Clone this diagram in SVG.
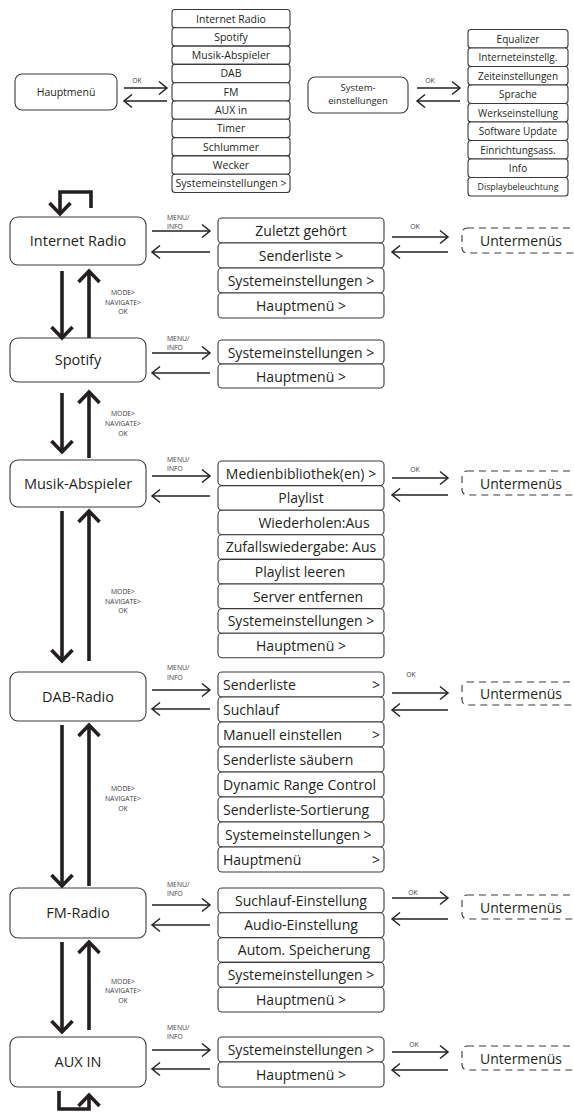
<svg xmlns="http://www.w3.org/2000/svg" width="574" height="1113" viewBox="0 0 574 1113">
  <style>
    text { font-family: "Open Sans", "Noto Sans", "DejaVu Sans", sans-serif; fill: #231f20; }
    .box { fill: #fff; stroke: #3a3a3a; stroke-width: 1.1; }
    .dash { fill: none; stroke: #3a3a3a; stroke-width: 1.1; stroke-dasharray: 7 5; }
    .main { font-size: 14.5px; text-anchor: middle; }
    .item { font-size: 14px; text-anchor: middle; }
    .itemL { font-size: 14px; }
    .top { font-size: 10.5px; text-anchor: middle; }
    .sys { font-size: 10px; text-anchor: middle; }
    .tiny { font-size: 6.8px; fill: #3a3a3a; }
    .tinyC { font-size: 6.8px; fill: #3a3a3a; text-anchor: middle; }
    .thin { fill: none; stroke: #231f20; stroke-width: 1.5; marker-end: url(#headThin); }
    .thick { fill: none; stroke: #231f20; stroke-width: 3.6; marker-end: url(#headThick); }
  </style>
  <defs>
    <marker id="headThin" markerUnits="userSpaceOnUse" viewBox="-12 -10 16 20" markerWidth="16" markerHeight="20" refX="0" refY="0" orient="auto">
      <path d="M-8,-6.5 L0,0 L-8,6.5" fill="none" stroke="#231f20" stroke-width="1.5"/>
    </marker>
    <marker id="headThick" markerUnits="userSpaceOnUse" viewBox="-16 -14 22 28" markerWidth="22" markerHeight="28" refX="0" refY="0" orient="auto">
      <path d="M-11,-10.5 L0,0 L-11,10.5" fill="none" stroke="#231f20" stroke-width="3.6"/>
    </marker>
  </defs>

  <!-- Main menu overview -->
  <g id="hauptmenue">
    <rect class="box" x="15" y="74" width="102" height="36" rx="7"/>
    <text class="top" x="66" y="96">Hauptmenü</text>
  </g>
  <g id="hauptmenue-liste">
    <rect class="box" x="172" y="9.5" width="118" height="18.3" rx="3"/>
    <text class="top" x="231" y="22.5">Internet Radio</text>
    <rect class="box" x="172" y="27.8" width="118" height="18.3" rx="3"/>
    <text class="top" x="231" y="40.8">Spotify</text>
    <rect class="box" x="172" y="46.1" width="118" height="18.3" rx="3"/>
    <text class="top" x="231" y="59.1">Musik-Abspieler</text>
    <rect class="box" x="172" y="64.4" width="118" height="18.3" rx="3"/>
    <text class="top" x="231" y="77.4">DAB</text>
    <rect class="box" x="172" y="82.7" width="118" height="18.3" rx="3"/>
    <text class="top" x="231" y="95.7">FM</text>
    <rect class="box" x="172" y="101" width="118" height="18.3" rx="3"/>
    <text class="top" x="231" y="114">AUX in</text>
    <rect class="box" x="172" y="119.3" width="118" height="18.3" rx="3"/>
    <text class="top" x="231" y="132.3">Timer</text>
    <rect class="box" x="172" y="137.6" width="118" height="18.3" rx="3"/>
    <text class="top" x="231" y="150.6">Schlummer</text>
    <rect class="box" x="172" y="155.9" width="118" height="18.3" rx="3"/>
    <text class="top" x="231" y="168.9">Wecker</text>
    <rect class="box" x="172" y="174.2" width="118" height="18.3" rx="3"/>
    <text class="top" x="231" y="187.2" textLength="111" lengthAdjust="spacingAndGlyphs">Systemeinstellungen &gt;</text>
  </g>

  <!-- System settings overview -->
  <g id="systemeinstellungen">
    <rect class="box" x="308" y="77" width="100" height="36" rx="7"/>
    <text class="top" x="358" y="91" style="font-size:9.5px">System-</text>
    <text class="top" x="358" y="104.3" style="font-size:9.5px">einstellungen</text>
  </g>
  <g id="system-liste">
    <rect class="box" x="468" y="29.5" width="100" height="18.5" rx="3"/>
    <text class="sys" x="518" y="42.5">Equalizer</text>
    <rect class="box" x="468" y="48" width="100" height="18.5" rx="3"/>
    <text class="sys" x="518" y="61">Interneteinstellg.</text>
    <rect class="box" x="468" y="66.5" width="100" height="18.5" rx="3"/>
    <text class="sys" x="518" y="79.5">Zeiteinstellungen</text>
    <rect class="box" x="468" y="85" width="100" height="18.5" rx="3"/>
    <text class="sys" x="518" y="98">Sprache</text>
    <rect class="box" x="468" y="103.5" width="100" height="18.5" rx="3"/>
    <text class="sys" x="518" y="116.5">Werkseinstellung</text>
    <rect class="box" x="468" y="122" width="100" height="18.5" rx="3"/>
    <text class="sys" x="518" y="135">Software Update</text>
    <rect class="box" x="468" y="140.5" width="100" height="18.5" rx="3"/>
    <text class="sys" x="518" y="153.5">Einrichtungsass.</text>
    <rect class="box" x="468" y="159" width="100" height="18.5" rx="3"/>
    <text class="sys" x="518" y="172">Info</text>
    <rect class="box" x="468" y="177.5" width="100" height="18.5" rx="3"/>
    <text class="sys" x="518" y="190" style="font-size:8.8px">Displaybeleuchtung</text>
  </g>

  <!-- Modes -->
  <g id="internet-radio">
    <rect class="box" x="10" y="217" width="136" height="48" rx="8"/>
    <text class="main" x="78" y="246">Internet Radio</text>
  </g>
  <g id="internet-radio-menue">
    <rect class="box" x="218" y="218" width="166" height="25" rx="4"/>
    <text class="item" x="301" y="236">Zuletzt gehört</text>
    <rect class="box" x="218" y="243" width="166" height="25" rx="4"/>
    <text class="item" x="301" y="261">Senderliste &gt;</text>
    <rect class="box" x="218" y="268" width="166" height="25" rx="4"/>
    <text class="item" x="301" y="286">Systemeinstellungen &gt;</text>
    <rect class="box" x="218" y="293" width="166" height="25" rx="4"/>
    <text class="item" x="301" y="311">Hauptmenü &gt;</text>
  </g>
  <g id="internet-radio-untermenues">
    <rect class="dash" x="462" y="228" width="150" height="25" rx="5"/>
    <text class="item" x="521" y="246">Untermenüs</text>
  </g>

  <g id="spotify">
    <rect class="box" x="10" y="338" width="136" height="44" rx="8"/>
    <text class="main" x="78" y="365">Spotify</text>
  </g>
  <g id="spotify-menue">
    <rect class="box" x="218" y="340" width="166" height="24" rx="4"/>
    <text class="item" x="301" y="357.5">Systemeinstellungen &gt;</text>
    <rect class="box" x="218" y="364" width="166" height="24" rx="4"/>
    <text class="item" x="301" y="381.5">Hauptmenü &gt;</text>
  </g>

  <g id="musik-abspieler">
    <rect class="box" x="10" y="460" width="136" height="47" rx="8"/>
    <text class="main" x="78" y="488.5">Musik-Abspieler</text>
  </g>
  <g id="musik-abspieler-menue">
    <rect class="box" x="218" y="461" width="166" height="24.6" rx="4"/>
    <text class="item" x="301" y="478.5">Medienbibliothek(en) &gt;</text>
    <rect class="box" x="218" y="485.6" width="166" height="24.6" rx="4"/>
    <text class="item" x="301" y="503.1">Playlist</text>
    <rect class="box" x="218" y="510.2" width="166" height="24.6" rx="4"/>
    <text class="item" x="314" y="527.7">Wiederholen:Aus</text>
    <rect class="box" x="218" y="534.8" width="166" height="24.6" rx="4"/>
    <text class="item" x="301" y="552.3">Zufallswiedergabe: Aus</text>
    <rect class="box" x="218" y="559.4" width="166" height="24.6" rx="4"/>
    <text class="item" x="300" y="576.9">Playlist leeren</text>
    <rect class="box" x="218" y="584" width="166" height="24.6" rx="4"/>
    <text class="item" x="308" y="601.5">Server entfernen</text>
    <rect class="box" x="218" y="608.6" width="166" height="24.6" rx="4"/>
    <text class="item" x="301" y="626.1">Systemeinstellungen &gt;</text>
    <rect class="box" x="218" y="633.2" width="166" height="24.6" rx="4"/>
    <text class="item" x="301" y="650.7">Hauptmenü &gt;</text>
  </g>
  <g id="musik-abspieler-untermenues">
    <rect class="dash" x="462" y="471" width="150" height="24" rx="5"/>
    <text class="item" x="521" y="488.5">Untermenüs</text>
  </g>

  <g id="dab-radio">
    <rect class="box" x="10" y="672" width="136" height="49" rx="8"/>
    <text class="main" x="78" y="701.5">DAB-Radio</text>
  </g>
  <g id="dab-radio-menue">
    <rect class="box" x="218" y="672" width="166" height="25" rx="4"/>
    <text class="itemL" x="223" y="690">Senderliste</text>
    <text class="itemL" x="372" y="690">&gt;</text>
    <rect class="box" x="218" y="697" width="166" height="25" rx="4"/>
    <text class="itemL" x="223" y="715">Suchlauf</text>
    <rect class="box" x="218" y="722" width="166" height="25" rx="4"/>
    <text class="itemL" x="223" y="740">Manuell einstellen</text>
    <text class="itemL" x="372" y="740">&gt;</text>
    <rect class="box" x="218" y="747" width="166" height="25" rx="4"/>
    <text class="itemL" x="223" y="765">Senderliste säubern</text>
    <rect class="box" x="218" y="772" width="166" height="25" rx="4"/>
    <text class="itemL" x="223" y="790">Dynamic Range Control</text>
    <rect class="box" x="218" y="797" width="166" height="25" rx="4"/>
    <text class="itemL" x="223" y="815">Senderliste-Sortierung</text>
    <rect class="box" x="218" y="822" width="166" height="25" rx="4"/>
    <text class="itemL" x="225" y="840">Systemeinstellungen &gt;</text>
    <rect class="box" x="218" y="847" width="166" height="25" rx="4"/>
    <text class="itemL" x="223" y="865">Hauptmenü</text>
    <text class="itemL" x="372" y="865">&gt;</text>
  </g>
  <g id="dab-radio-untermenues">
    <rect class="dash" x="462" y="682" width="150" height="23" rx="5"/>
    <text class="item" x="521" y="699">Untermenüs</text>
  </g>

  <g id="fm-radio">
    <rect class="box" x="10" y="888" width="136" height="50" rx="8"/>
    <text class="main" x="78" y="918">FM-Radio</text>
  </g>
  <g id="fm-radio-menue">
    <rect class="box" x="218" y="888" width="166" height="24.8" rx="4"/>
    <text class="item" x="301" y="905.5">Suchlauf-Einstellung</text>
    <rect class="box" x="218" y="912.8" width="166" height="24.8" rx="4"/>
    <text class="item" x="301" y="930.3">Audio-Einstellung</text>
    <rect class="box" x="218" y="937.6" width="166" height="24.8" rx="4"/>
    <text class="item" x="304" y="955.1">Autom. Speicherung</text>
    <rect class="box" x="218" y="962.4" width="166" height="24.8" rx="4"/>
    <text class="item" x="301" y="979.9">Systemeinstellungen &gt;</text>
    <rect class="box" x="218" y="987.2" width="166" height="24.8" rx="4"/>
    <text class="item" x="301" y="1004.7">Hauptmenü &gt;</text>
  </g>
  <g id="fm-radio-untermenues">
    <rect class="dash" x="462" y="895" width="150" height="24" rx="5"/>
    <text class="item" x="521" y="912.5">Untermenüs</text>
  </g>

  <g id="aux-in">
    <rect class="box" x="10" y="1037" width="136" height="50" rx="8"/>
    <text class="main" x="78" y="1067">AUX IN</text>
  </g>
  <g id="aux-in-menue">
    <rect class="box" x="218" y="1037" width="166" height="25" rx="4"/>
    <text class="item" x="301" y="1055">Systemeinstellungen &gt;</text>
    <rect class="box" x="218" y="1062" width="166" height="25" rx="4"/>
    <text class="item" x="301" y="1080">Hauptmenü &gt;</text>
  </g>
  <g id="aux-in-untermenues">
    <rect class="dash" x="462" y="1046" width="150" height="24" rx="5"/>
    <text class="item" x="521" y="1063.5">Untermenüs</text>
  </g>

  <!-- Connectors -->
  <g id="connectors">
    <!-- overview pairs -->
    <path class="thin" d="M124,88 H167"/>
    <path class="thin" d="M167,101 H124"/>
    <path class="thin" d="M417,88 H460"/>
    <path class="thin" d="M460,101 H417"/>

    <!-- MENU/INFO pairs -->
    <path class="thin" d="M152,231 H210"/>
    <path class="thin" d="M210,252 H152"/>
    <path class="thin" d="M152,353 H210"/>
    <path class="thin" d="M210,373 H152"/>
    <path class="thin" d="M152,476 H210"/>
    <path class="thin" d="M210,496 H152"/>
    <path class="thin" d="M152,690 H210"/>
    <path class="thin" d="M210,709 H152"/>
    <path class="thin" d="M152,905 H210"/>
    <path class="thin" d="M210,925 H152"/>
    <path class="thin" d="M152,1050 H210"/>
    <path class="thin" d="M210,1069 H152"/>

    <!-- OK pairs to submenus -->
    <path class="thin" d="M392,237 H448"/>
    <path class="thin" d="M448,252 H392"/>
    <path class="thin" d="M392,478 H448"/>
    <path class="thin" d="M448,495 H392"/>
    <path class="thin" d="M392,693 H448"/>
    <path class="thin" d="M448,710 H392"/>
    <path class="thin" d="M392,898 H448"/>
    <path class="thin" d="M448,919 H392"/>
    <path class="thin" d="M392,1052 H448"/>
    <path class="thin" d="M448,1070 H392"/>

    <!-- MODE navigation -->
    <path class="thick" d="M91,208 V192 H60 V214"/>
    <path class="thick" d="M62,271 V338"/>
    <path class="thick" d="M89,338 V271"/>
    <path class="thick" d="M62,393 V452"/>
    <path class="thick" d="M89,458 V392"/>
    <path class="thick" d="M62,511 V661"/>
    <path class="thick" d="M89,661 V511"/>
    <path class="thick" d="M62,725 V886"/>
    <path class="thick" d="M89,886 V725"/>
    <path class="thick" d="M62,942 V1032"/>
    <path class="thick" d="M89,1030 V942"/>
    <path class="thick" d="M59,1091 V1109 H89 V1095"/>

    <!-- labels -->
    <text class="tinyC" x="137" y="83">OK</text>
    <text class="tinyC" x="430" y="83">OK</text>

    <text class="tiny" x="167" y="220">MENU/</text>
    <text class="tiny" x="167" y="229">INFO</text>
    <text class="tiny" x="167" y="341">MENU/</text>
    <text class="tiny" x="167" y="350">INFO</text>
    <text class="tiny" x="167" y="462">MENU/</text>
    <text class="tiny" x="167" y="471">INFO</text>
    <text class="tiny" x="167" y="670">MENU/</text>
    <text class="tiny" x="167" y="680">INFO</text>
    <text class="tiny" x="167" y="887">MENU/</text>
    <text class="tiny" x="167" y="896">INFO</text>
    <text class="tiny" x="167" y="1030">MENU/</text>
    <text class="tiny" x="167" y="1039">INFO</text>

    <text class="tinyC" x="415" y="229">OK</text>
    <text class="tinyC" x="415" y="472">OK</text>
    <text class="tinyC" x="411" y="677">OK</text>
    <text class="tinyC" x="413" y="895">OK</text>
    <text class="tinyC" x="414" y="1047">OK</text>

    <text class="tinyC" x="123" y="295">MODE&gt;</text>
    <text class="tinyC" x="123" y="305">NAVIGATE&gt;</text>
    <text class="tinyC" x="123" y="314">OK</text>
    <text class="tinyC" x="123" y="416">MODE&gt;</text>
    <text class="tinyC" x="123" y="426">NAVIGATE&gt;</text>
    <text class="tinyC" x="123" y="436">OK</text>
    <text class="tinyC" x="123" y="594">MODE&gt;</text>
    <text class="tinyC" x="123" y="604">NAVIGATE&gt;</text>
    <text class="tinyC" x="123" y="613">OK</text>
    <text class="tinyC" x="123" y="791">MODE&gt;</text>
    <text class="tinyC" x="123" y="801">NAVIGATE&gt;</text>
    <text class="tinyC" x="123" y="811">OK</text>
    <text class="tinyC" x="123" y="984">MODE&gt;</text>
    <text class="tinyC" x="123" y="993">NAVIGATE&gt;</text>
    <text class="tinyC" x="123" y="1003">OK</text>
  </g>
</svg>
